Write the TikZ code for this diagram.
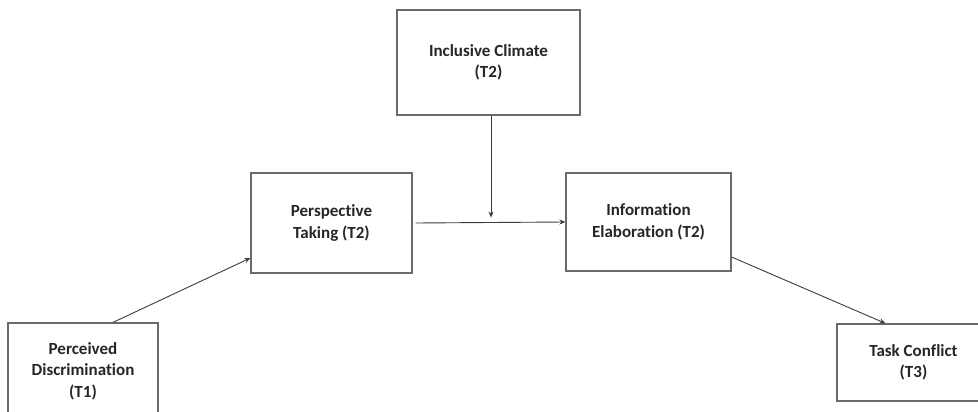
\documentclass[tikz,border=0pt]{standalone}
\usepackage{fontspec}
\setmainfont[Ligatures={NoCommon}]{Carlito}
\usetikzlibrary{calc,arrows.meta}
\definecolor{boxline}{HTML}{6A6A6A}
\definecolor{conn}{HTML}{3C3C3C}
\definecolor{txt}{HTML}{262626}
\begin{document}
\begin{tikzpicture}[x=1pt,y=-1pt,
  box/.style={draw=boxline,line width=1.2pt,fill=white,align=center,inner sep=0pt,
    font=\fontsize{17}{21.5}\selectfont\bfseries,text=txt},
  arr/.style={draw=conn,line width=0.9pt,-{Stealth[length=6pt,width=5pt]}}]
\clip (0,0) rectangle (978,412);
\fill[white] (0,0) rectangle (978,412);
\node[box,minimum width=183pt,minimum height=105pt] (ic) at (488.5,62.5) {Inclusive Climate\\(T2)};
\node[box,minimum width=161pt,minimum height=100pt] (pt) at (331.5,223) {Perspective\\Taking (T2)};
\node[box,minimum width=165pt,minimum height=98pt] (ie) at (648.5,222) {Information\\Elaboration (T2)};
\node[box,minimum width=150pt,minimum height=96pt] (pd) at (83,371) {Perceived\\Discrimination\\(T1)};
\node[box,minimum width=153pt,minimum height=77pt] (tc) at (913.5,362.5) {Task Conflict\\(T3)};
\coordinate (mod) at ($(ic.south)+(2.5,102)$);
\draw[arr] ($(pt.east)+(3,0)$) -- (ie.west);
\draw[arr] ($(ic.south)+(2.5,0)$) -- (mod);
\draw[arr] ($(pd.north)+(30,0)$) -- ($(pt.west)+(0,35)$);
\draw[arr] ($(ie.east)+(0,35)$) -- ($(tc.north)+(-28,0)$);
\end{tikzpicture}
\end{document}
